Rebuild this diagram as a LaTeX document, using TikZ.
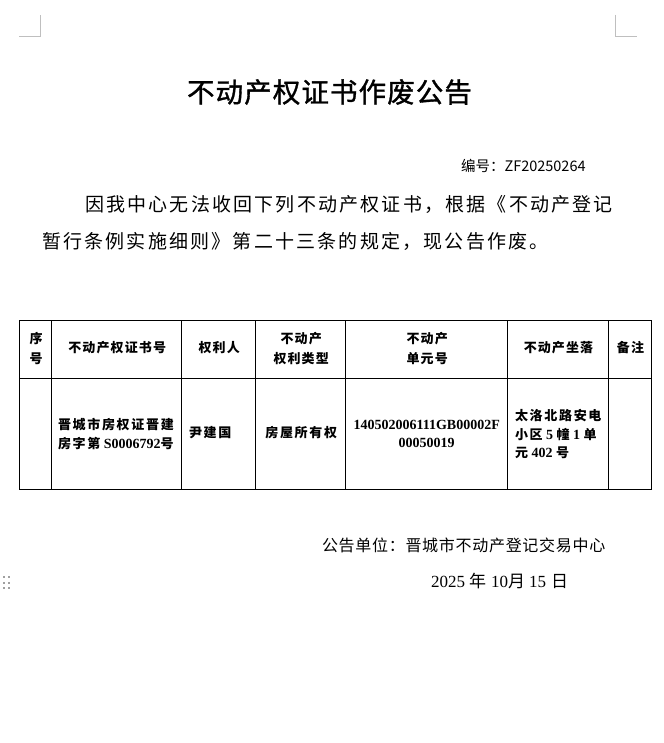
\documentclass[tikz,border=0pt]{standalone}
\usepackage{fontspec}
\setmainfont{Liberation Serif}
\newfontfamily\cjkTitle[LetterSpace=4,FakeBold=1.2]{Noto Sans CJK SC}
\newfontfamily\cjkBody[LetterSpace=11.6]{Noto Sans CJK SC}
\newfontfamily\cjkPlain{Noto Sans CJK SC}
\newfontfamily\cjkHead[LetterSpace=8.5]{Noto Sans CJK SC}
\newfontfamily\cjkCell[LetterSpace=13]{Noto Sans CJK SC}
\newfontfamily\cjkSign[LetterSpace=4.4]{Noto Sans CJK SC}
\definecolor{markgray}{HTML}{BFBFBF}
\definecolor{dotgray}{HTML}{A0A0A0}
\tikzset{
  markline/.style={draw=markgray, line width=0.8pt},
  gridline/.style={draw=black, line width=1pt},
  headtxt/.style={font=\cjkHead\bfseries\fontsize{13}{20}\selectfont, align=center},
  celltxt/.style={font=\cjkCell\bfseries\fontsize{13}{18.5}\selectfont, align=left},
}
\begin{document}
\begin{tikzpicture}[x=1pt,y=-1pt,inner sep=0pt,outer sep=0pt]
\useasboundingbox (0,0) rectangle (663,743);
\fill[white] (0,0) rectangle (663,743);
% corner marks
\draw[markline] (19,36) -- (40,36) -- (40,15);
\draw[markline] (615,15) -- (615,36) -- (637,36);
% title and number
\node[font=\cjkTitle\fontsize{27.5}{30}\selectfont] (title) at (329.5,92) {不动产权证书作废公告};
\node[anchor=west, font=\cjkPlain\fontsize{14.5}{16}\selectfont] (num) at (461,166) {编号：ZF20250264};
% paragraph
\node[anchor=west, font=\cjkBody\fontsize{19}{22}\selectfont] (p1) at (85,204) {因我中心无法收回下列不动产权证书，根据《不动产登记};
\node[anchor=west, font=\cjkBody\fontsize{19}{22}\selectfont] (p2) at (42,241) {暂行条例实施细则》第二十三条的规定，现公告作废。};
% table grid
\draw[gridline] (19.5,320) rectangle (651.7,489);
\draw[gridline] (19.5,378) -- (651.7,378);
\foreach \x in {51.7,181.7,255.7,345.7,507.7,608.3} \draw[gridline] (\x,320) -- (\x,489);
% header
\node[headtxt] (h1) at (36.1,348) {序\\号};
\node[headtxt] (h2) at (117.2,348) {不动产权证书号};
\node[headtxt] (h3) at (219.2,348) {权利人};
\node[headtxt] (h4) at (301.2,349) {不动产\\权利类型};
\node[headtxt] (h5) at (427.2,349) {不动产\\单元号};
\node[headtxt] (h6) at (558.5,348) {不动产坐落};
\node[headtxt] (h7) at (630.5,348) {备注};
% data row
\node[celltxt, anchor=west] (d2) at (58,434) {晋城市房权证晋建\\房字第{\rmfamily\fontsize{14}{18.5}\selectfont\ S0006792}号};
\node[celltxt, anchor=west] (d3) at (189,433) {尹建国};
\node[celltxt] (d4) at (301.2,433) {房屋所有权};
\node[font=\rmfamily\bfseries\fontsize{14}{18.5}\selectfont, align=center] (d5) at (426.7,434) {140502006111GB00002F\\00050019};
\node[celltxt, anchor=west] (d6) at (515,434.5) {太洛北路安电\\小区{\rmfamily\fontsize{14}{18.5}\selectfont\ 5\ }幢{\rmfamily\fontsize{14}{18.5}\selectfont\ 1\ }单\\元{\rmfamily\fontsize{14}{18.5}\selectfont\ 402\ }号};
% signature
\node[anchor=west, font=\cjkSign\fontsize{16}{18}\selectfont] (sign) at (322,545) {公告单位：晋城市不动产登记交易中心};
\node[anchor=west, font=\fontsize{17}{19}\selectfont] (date) at (431,581) {2025\hspace{4pt}{\cjkPlain 年}\hspace{5pt}10{\cjkPlain 月}\hspace{4pt}15\hspace{5pt}{\cjkPlain 日}};
% drag handle dots
\foreach \xx in {4.3,9.3} \foreach \yy in {577.3,582.7,588.3}
  \fill[dotgray] (\xx-1,\yy-1) rectangle (\xx+1,\yy+1);
\end{tikzpicture}
\end{document}
